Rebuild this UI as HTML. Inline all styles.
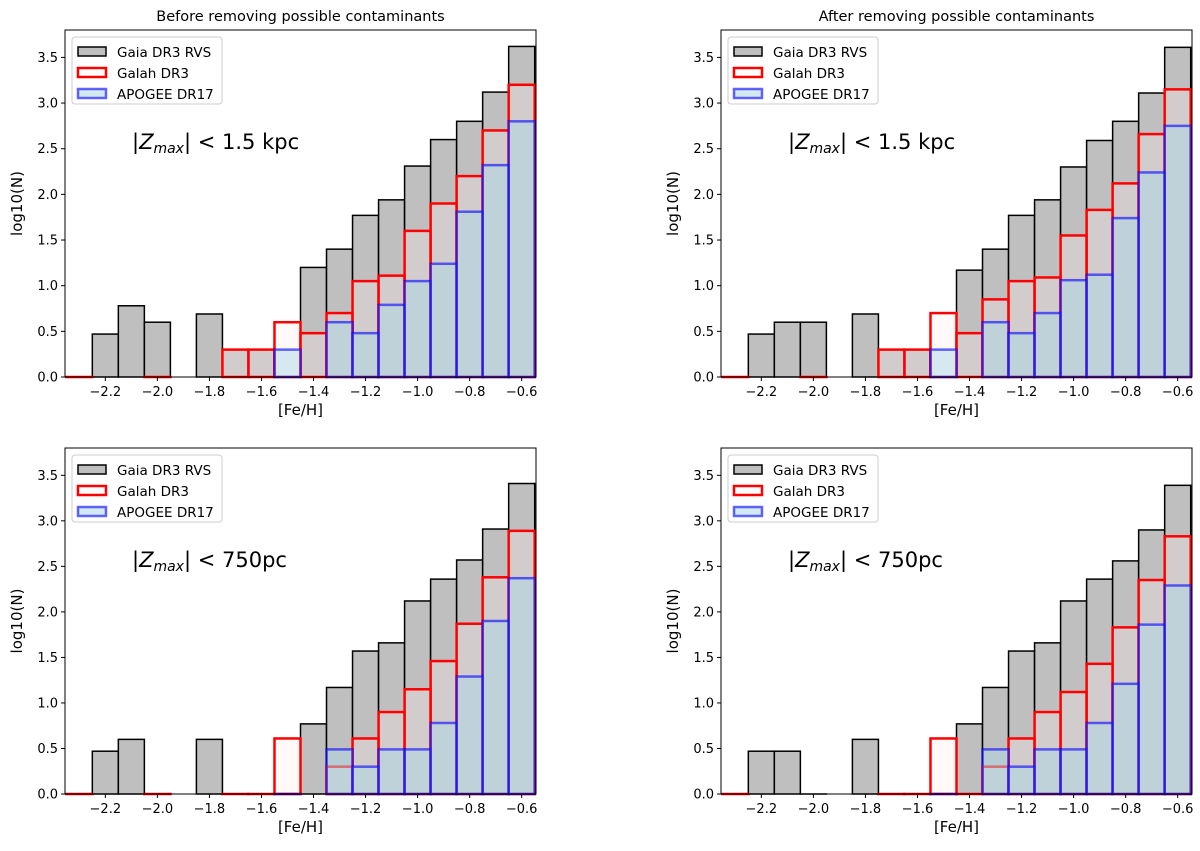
<!DOCTYPE html>
<html><head><meta charset="utf-8"><style>
body{margin:0;background:#fff;}
svg text{font-family:"DejaVu Sans","Liberation Sans",sans-serif;}
</style></head><body>
<svg id="fig" width="1200" height="846" viewBox="0 0 1200 846" xmlns="http://www.w3.org/2000/svg"></svg>
<script>
const binCenters = [-2.3,-2.2,-2.1,-2.0,-1.9,-1.8,-1.7,-1.6,-1.5,-1.4,-1.3,-1.2,-1.1,-1.0,-0.9,-0.8,-0.7,-0.6];
const xTicks = [-2.2,-2.0,-1.8,-1.6,-1.4,-1.2,-1.0,-0.8,-0.6];
const yTicks = [0,0.5,1.0,1.5,2.0,2.5,3.0,3.5];
const N = null;
const gaiaTL = [N,0.47,0.78,0.6,N,0.69,0.3,0.3,N,1.2,1.4,1.77,1.94,2.31,2.6,2.8,3.12,3.62];
const galahTL = [0,N,N,0,N,N,0.3,0.3,0.6,0.48,0.7,1.05,1.11,1.6,1.9,2.2,2.7,3.2];
const apogeeTL = [N,N,N,N,N,N,N,N,0.3,N,0.6,0.48,0.79,1.05,1.24,1.81,2.32,2.8];
const gaiaTR = [N,0.47,0.6,0.6,N,0.69,0.3,0.3,N,1.17,1.4,1.77,1.94,2.3,2.59,2.8,3.11,3.61];
const galahTR = [0,N,N,0,N,N,0.3,0.3,0.7,0.48,0.85,1.05,1.09,1.55,1.83,2.12,2.66,3.15];
const apogeeTR = [N,N,N,N,N,N,N,N,0.3,N,0.6,0.48,0.7,1.06,1.12,1.74,2.24,2.75];
const gaiaBL = [N,0.47,0.6,N,N,0.6,N,N,N,0.77,1.17,1.57,1.66,2.12,2.36,2.57,2.91,3.41];
const galahBL = [0,N,N,0,N,N,0,0,0.61,N,0.3,0.61,0.9,1.15,1.46,1.87,2.38,2.89];
const apogeeBL = [N,N,N,N,N,N,N,N,0,N,0.49,0.3,0.49,0.49,0.78,1.29,1.9,2.37];
const gaiaBR = [N,0.47,0.47,0,N,0.6,N,N,N,0.77,1.17,1.57,1.66,2.12,2.36,2.56,2.9,3.39];
const galahBR = [0,N,N,N,N,N,0,0,0.61,0,0.3,0.61,0.9,1.12,1.43,1.83,2.35,2.83];
const apogeeBR = [N,N,N,N,N,N,N,N,0,N,0.49,0.3,0.49,0.49,0.78,1.21,1.86,2.29];

const NS="http://www.w3.org/2000/svg";
const svg=document.getElementById('fig');
function el(tag,attrs,parent,text){const e=document.createElementNS(NS,tag);for(const k in attrs)e.setAttribute(k,attrs[k]);if(text!==undefined)e.textContent=text;(parent||svg).appendChild(e);return e;}

const panels=[
 {key:'top-left',L:65,R:536,T:30,B:377,gaia:gaiaTL,galah:galahTL,apo:apogeeTL,title:'Before removing possible contaminants',z:'1.5 kpc'},
 {key:'top-right',L:721,R:1192,T:30,B:377,gaia:gaiaTR,galah:galahTR,apo:apogeeTR,title:'After removing possible contaminants',z:'1.5 kpc'},
 {key:'bottom-left',L:65,R:536,T:448,B:794,gaia:gaiaBL,galah:galahBL,apo:apogeeBL,title:'',z:'750pc'},
 {key:'bottom-right',L:721,R:1192,T:448,B:794,gaia:gaiaBR,galah:galahBR,apo:apogeeBR,title:'',z:'750pc'}
];
const xmin=-2.355,xmax=-0.545,ymax=3.8;
panels.forEach(p=>{
 const g=el('g',{});
 
 
 const xs=v=>p.L+(v-xmin)/(xmax-xmin)*(p.R-p.L);
 const ys=v=>p.B-v/ymax*(p.B-p.T);
 function drawHist(vals,fill,stroke,sw,name){
  const hg=el('g',{},g);
  
  
  vals.forEach((v,i)=>{
   if(v===null)return;
   const x0=xs(binCenters[i]-0.05),x1=xs(binCenters[i]+0.05),y=ys(v);
   const r=el('rect',{x:x0,y:y,width:x1-x0,height:Math.max(p.B-y,0.01),fill:fill,stroke:stroke,'stroke-width':sw},hg);
   
   
  });
 }
 drawHist(p.gaia,'#bfbfbf','#000',1.5,'gaia-histogram');
 drawHist(p.galah,'rgba(255,235,240,0.3)','#ff0000',2.5,'galah-histogram');
 drawHist(p.apo,'rgba(173,216,230,0.5)','rgba(0,0,255,0.6)',2.5,'apogee-histogram');
 el('rect',{x:p.L,y:p.T,width:p.R-p.L,height:p.B-p.T,fill:'none',stroke:'#000','stroke-width':1});
 xTicks.forEach(t=>{
  const x=xs(t);
  el('line',{x1:x,x2:x,y1:p.B,y2:p.B+4,stroke:'#000'},g);
  const tx=el('text',{x:x,y:p.B+19,'font-size':13,'text-anchor':'middle'},g,(t<0?'\u2212':'')+Math.abs(t).toFixed(1));
  
  
 });
 yTicks.forEach(t=>{
  const y=ys(t);
  el('line',{x1:p.L-4,x2:p.L,y1:y,y2:y,stroke:'#000'},g);
  const tx=el('text',{x:p.L-7,y:y+4.5,'font-size':13,'text-anchor':'end'},g,t.toFixed(1));
  
  
 });
 const xl=el('text',{x:(p.L+p.R)/2,y:p.B+38,'font-size':15,'text-anchor':'middle'},g,'[Fe/H]');
 
 
 const yl=el('text',{x:0,y:0,'font-size':15,'text-anchor':'middle',transform:`translate(${p.L-43},${(p.T+p.B)/2}) rotate(-90)`},g,'log10(N)');
 
 
 if(p.title){
  const tt=el('text',{x:(p.L+p.R)/2,y:p.T-9,'font-size':14.5,'text-anchor':'middle'},g,p.title);
  
  
 }
 const lg=el('g',{},g);
 
 
 el('rect',{x:p.L+7,y:p.T+7,width:150,height:67,rx:3,fill:'#fff','fill-opacity':0.8,stroke:'#ccc'},lg);
 const entries=[['Gaia DR3 RVS','#bfbfbf','#000',1.5],['Galah DR3','#fff','#ff0000',2.5],['APOGEE DR17','#d3e9f0','rgba(0,0,255,0.6)',2.5]];
 entries.forEach((e,i)=>{
  const yy=p.T+17+i*21;
  const eg=el('g',{},lg);
  
  
  el('rect',{x:p.L+13,y:yy,width:28,height:9,fill:e[1],stroke:e[2],'stroke-width':e[3]},eg);
  el('text',{x:p.L+52,y:yy+10,'font-size':13.5},eg,e[0]);
 });
 const zt=el('text',{x:p.L+67,y:p.T+119,'font-size':21},g);
 
 
 el('tspan',{},zt,'|');
 el('tspan',{'font-style':'italic'},zt,'Z');
 el('tspan',{'font-style':'italic','font-size':14,dy:4},zt,'max');
 el('tspan',{dy:-4},zt,'| < '+p.z);
});
</script>
</body></html>
